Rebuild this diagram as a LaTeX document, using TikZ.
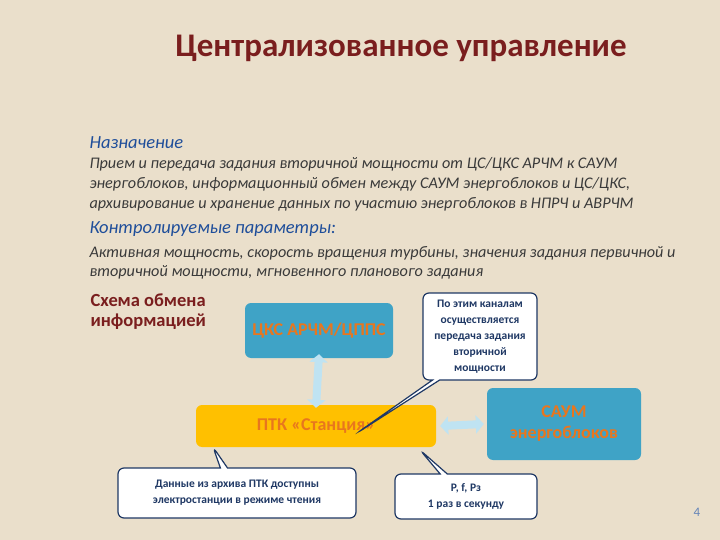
\documentclass[tikz,border=0pt]{standalone}
\usepackage{fontspec}
\setmainfont{Carlito}
\usetikzlibrary{shapes.callouts,arrows.meta}
\definecolor{bg}{HTML}{EADFCB}
\definecolor{ttl}{HTML}{7A1E1E}
\definecolor{hb}{HTML}{1F4E9A}
\definecolor{tx}{HTML}{3A3A3A}
\definecolor{tealb}{HTML}{3FA3C6}
\definecolor{yel}{HTML}{FFC000}
\definecolor{org}{HTML}{E8761E}
\definecolor{nav}{HTML}{1F3864}
\definecolor{lb}{HTML}{BFE3F2}
\begin{document}
\begin{tikzpicture}[x=1pt,y=-1pt,
  body/.style={anchor=west,font=\itshape\fontsize{16.2}{18}\selectfont,text=tx},
  head/.style={anchor=west,font=\itshape\fontsize{18.5}{20}\selectfont,text=hb},
  box/.style={rounded corners=6pt,draw=none,font=\bfseries\fontsize{18}{21}\selectfont,text=org,align=center,inner sep=0pt},
  call/.style={rectangle callout,rounded corners=6pt,draw=nav,line width=1.2pt,fill=white,align=center,font=\bfseries\fontsize{11.5}{16}\selectfont,text=nav,inner sep=0pt},
  dbl/.style={{Triangle[width=18pt 0,length=8pt 0]}-{Triangle[width=18pt 0,length=8pt 0]},line width=8pt,draw=lb}]
\fill[bg] (0,0) rectangle (720,540);
\useasboundingbox (0,0) rectangle (720,540);
\node (title) at (401,48) {\textcolor{ttl}{\bfseries\fontsize{33}{36}\selectfont Централизованное управление}};
\node[head] (h1) at (86,143) {Назначение};
\node[body] (b1) at (86,164) {Прием и передача задания вторичной мощности от ЦС/ЦКС АРЧМ к САУМ};
\node[body] (b2) at (86,184) {энергоблоков, информационный обмен между САУМ энергоблоков и ЦС/ЦКС,};
\node[body] (b3) at (86,204) {архивирование и хранение данных по участию энергоблоков в НПРЧ и АВРЧМ};
\node[head] (h2) at (86,229) {Контролируемые параметры:};
\node[body] (b4) at (86,253) {Активная мощность, скорость вращения турбины, значения задания первичной и};
\node[body] (b5) at (86,272) {вторичной мощности, мгновенного планового задания};
\node[anchor=north west,align=left,text=ttl,font=\bfseries\fontsize{18.5}{20}\selectfont] (sh) at (87,290) {Схема обмена\\информацией};
\node[box,fill=tealb,minimum width=148pt,minimum height=55pt] (cks) at (319,330.5) {ЦКС АРЧМ/ЦППС};
\node[box,fill=yel,minimum width=240pt,minimum height=42pt] (ptk) at (316,426) {ПТК «Станция»};
\node[box,fill=tealb,minimum width=154pt,minimum height=72pt] (saum) at (564,424) {САУМ\\энергоблоков};
\draw[dbl] ([yshift=4pt]cks.south) -- ([yshift=-3pt]ptk.north);
\draw[dbl] ([xshift=4pt]ptk.east) -- ([xshift=-3pt]saum.west);
\coordinate (p1) at (357,433);
\coordinate (p2) at (213,447);
\coordinate (p3) at (420,450);
\node[call,minimum width=114pt,minimum height=87pt,callout absolute pointer=(p1)] (c1) at (480,336.5) {По этим каналам\\осуществляется\\передача задания\\вторичной\\мощности};
\node[call,minimum width=238pt,minimum height=50pt,callout absolute pointer=(p2)] (c2) at (237,493) {Данные из архива ПТК доступны\\электростанции в режиме чтения};
\node[call,minimum width=142pt,minimum height=45pt,callout absolute pointer=(p3)] (c3) at (466,496.5) {P, f, Рз\\1 раз в секунду};
\node[text=hb!70,font=\fontsize{13}{14}\selectfont] (num) at (697,512) {4};
\end{tikzpicture}
\end{document}
